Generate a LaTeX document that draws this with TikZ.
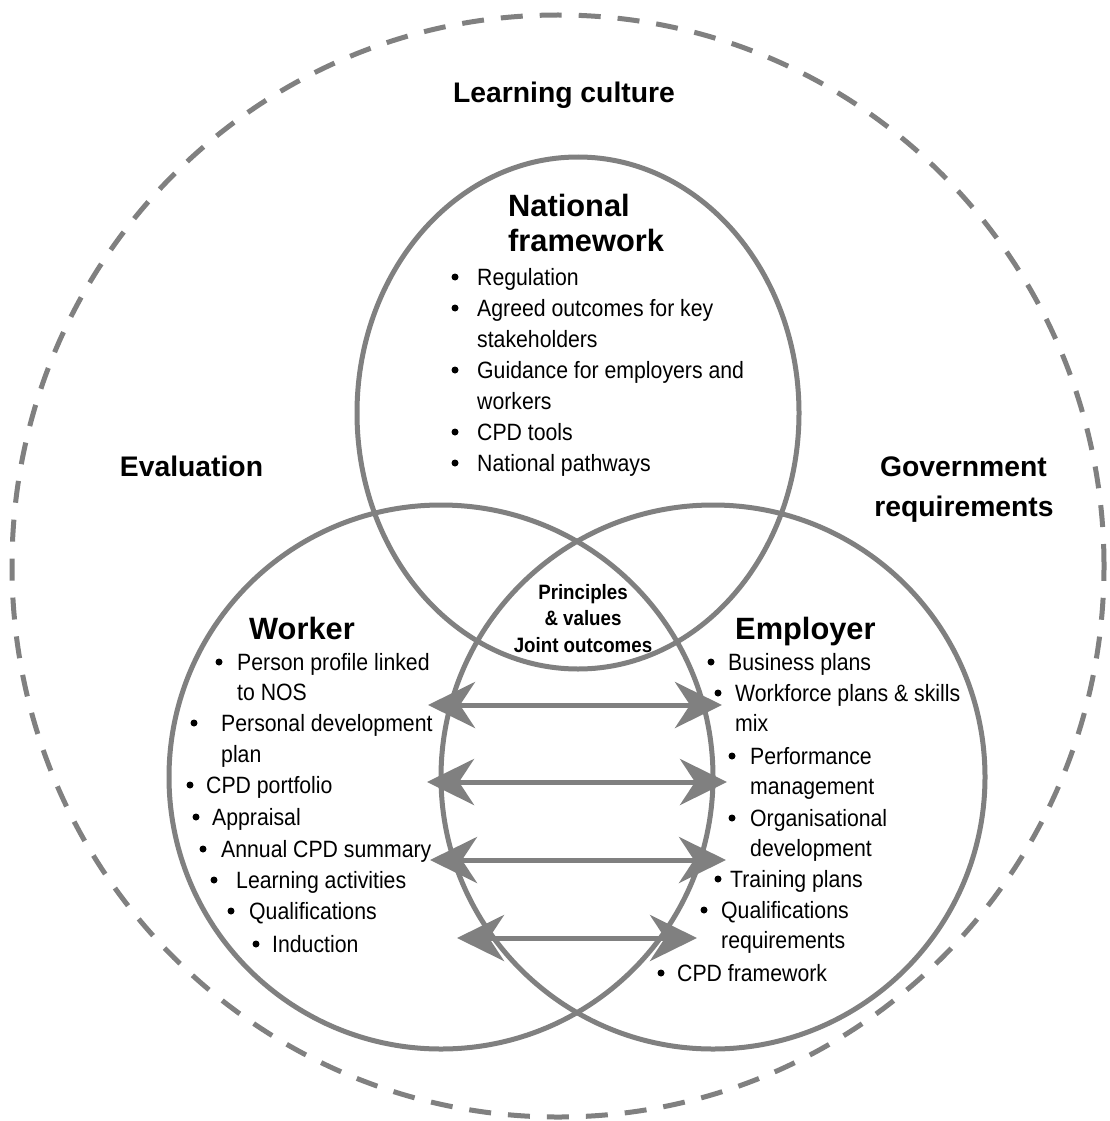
\documentclass[tikz,border=0pt]{standalone}
\usepackage{fontspec}
\setmainfont{Liberation Sans}
\newfontfamily\narrowfont{Liberation Sans}[FakeStretch=0.9]
\usetikzlibrary{arrows.meta}
\definecolor{ring}{RGB}{128,128,128}

% bullet point with its text; #1 name, #2 bullet x, #3 text x, #4 line centre y, #5 text
\newcommand{\listentry}[5]{%
  \fill ({#2},{#4}) circle [radius=3.5pt];
  \node[entry] (#1) at ({#3},{#4+8.5}) {#5};}
% continuation line of a bullet point; #1 name, #2 text x, #3 line centre y, #4 text
\newcommand{\listcont}[4]{%
  \node[entry] (#1) at ({#2},{#3+8.5}) {#4};}

\begin{document}
\begin{tikzpicture}[x=1pt,y=-1pt,
  ringline/.style={draw=ring,line width=5pt},
  dashring/.style={draw=ring,line width=5pt,dash pattern=on 22pt off 17pt},
  headtip/.tip={Stealth[length=47pt,width=46pt,inset=15pt]},
  link/.style={draw=ring,line width=5pt,headtip-headtip},
  region/.style={font=\fontsize{28.3}{34}\selectfont\bfseries,inner sep=0pt,anchor=base},
  heading/.style={font=\fontsize{30.8}{36}\selectfont\bfseries,inner sep=0pt,anchor=base west},
  core/.style={font=\narrowfont\fontsize{20.8}{26}\selectfont\bfseries,inner sep=0pt,anchor=base},
  entry/.style={font=\narrowfont\fontsize{23.6}{31}\selectfont,inner sep=0pt,anchor=base west}
]
\useasboundingbox (0,0) rectangle (1109,1121);
\fill[white] (0,0) rectangle (1109,1121);

% learning culture boundary
\draw[dashring] (558,566) ellipse [x radius=546pt, y radius=551pt];

% the three sets
\draw[ringline] (578,413) ellipse [x radius=221pt, y radius=256pt];
\draw[ringline] (441,777) circle [radius=272pt];
\draw[ringline] (713,777) circle [radius=272pt];

% two-way links between worker and employer
\coordinate (a1l) at (428,705); \coordinate (a1r) at (722,705);
\coordinate (a2l) at (427,782); \coordinate (a2r) at (727,782);
\coordinate (a3l) at (430,860); \coordinate (a3r) at (726,860);
\coordinate (a4l) at (457,938); \coordinate (a4r) at (697,938);
\draw[link] (a1l) -- (a1r);
\draw[link] (a2l) -- (a2r);
\draw[link] (a3l) -- (a3r);
\draw[link] (a4l) -- (a4r);

% surrounding labels
\node[region] (culture) at (564,103) {Learning culture};
\node[region] (evaluation) at (191.5,476) {Evaluation};
\node[region] (gov1) at (963.5,476) {Government};
\node[region] (gov2) at (964,516) {requirements};

% national framework
\node[heading] (nat1) at (508,216) {National};
\node[heading] (nat2) at (508,251) {framework};
\listentry{nf1}{455}{477}{277}{Regulation}
\listentry{nf2}{455}{477}{308}{Agreed outcomes for key}
\listcont{nf2b}{477}{339}{stakeholders}
\listentry{nf3}{455}{477}{370}{Guidance for employers and}
\listcont{nf3b}{477}{401}{workers}
\listentry{nf4}{455}{477}{432}{CPD tools}
\listentry{nf5}{455}{477}{463}{National pathways}

% common core
\node[core] (core1) at (583,599) {Principles};
\node[core] (core2) at (583,625) {\& values};
\node[core] (core3) at (583,652) {Joint outcomes};

% worker
\node[heading] (worker) at (249,639) {Worker};
\listentry{w1}{219}{237}{662}{Person profile linked}
\listcont{w1b}{237}{692}{to NOS}
\listentry{w2}{194}{221}{723}{Personal development}
\listcont{w2b}{221}{754}{plan}
\listentry{w3}{190}{206}{785}{CPD portfolio}
\listentry{w4}{196}{212}{817}{Appraisal}
\listentry{w5}{203}{221}{849}{Annual CPD summary}
\listentry{w6}{214}{236}{880}{Learning activities}
\listentry{w7}{231}{249}{911}{Qualifications}
\listentry{w8}{256}{272}{944}{Induction}

% employer
\node[heading] (employer) at (735,639) {Employer};
\listentry{e1}{711}{728}{662}{Business plans}
\listentry{e2}{718}{735}{693}{Workforce plans \& skills}
\listcont{e2b}{735}{723}{mix}
\listentry{e3}{732}{750}{756}{Performance}
\listcont{e3b}{750}{786}{management}
\listentry{e4}{732}{750}{818}{Organisational}
\listcont{e4b}{750}{848}{development}
\listentry{e5}{718}{730}{879}{Training plans}
\listentry{e6}{704}{721}{910}{Qualifications}
\listcont{e6b}{721}{940}{requirements}
\listentry{e7}{661}{677}{973}{CPD framework}
\end{tikzpicture}
\end{document}
